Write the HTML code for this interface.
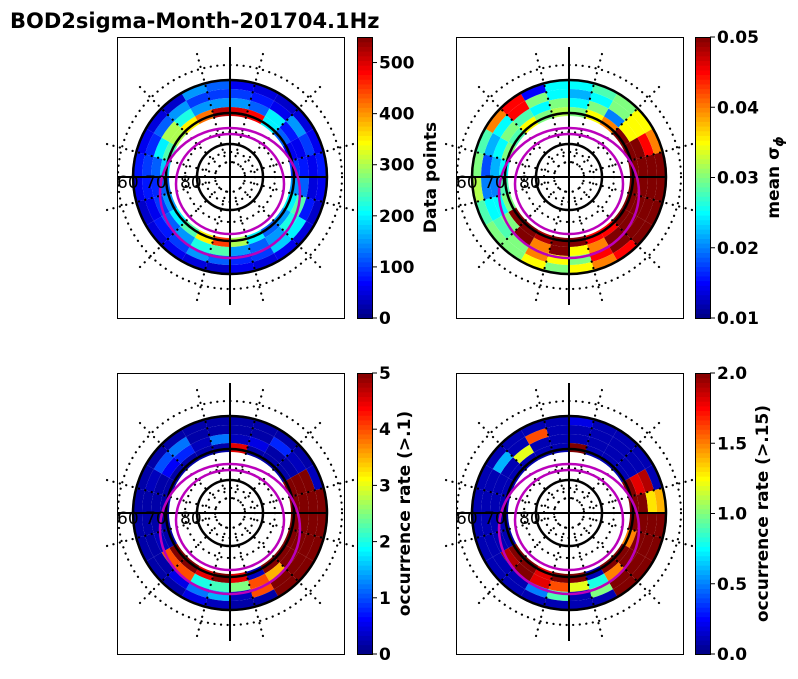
<!DOCTYPE html>
<html><head><meta charset="utf-8"><style>
body{margin:0;background:#fff;width:798px;height:674px;overflow:hidden}
text{font-family:"DejaVu Sans","Liberation Sans",sans-serif}
</style></head><body>
<svg id="fig" width="798" height="674" xmlns="http://www.w3.org/2000/svg">
<text x="10" y="28" font-size="21" font-weight="bold">BOD2sigma-Month-201704.1Hz</text>
</svg>
<script>
// sectors: 24 clockwise from noon (top); rings inner->outer
const sectorCount = 24;
const p1r0=[500,480,200,120,60,100,150,200,150,120,200,300,450,350,250,200,150,120,180,250,300,350,420,520];
const p1r1=[150,120,200,80,60,80,120,250,220,150,120,150,250,220,150,120,100,90,120,200,300,220,150,150];
const p1r2=[100,80,60,150,100,60,50,80,200,180,100,90,120,150,100,80,60,80,100,90,120,150,100,100];
const p1r3=[60,50,40,50,60,80,60,40,50,60,50,60,40,50,60,50,40,60,80,60,50,40,150,120];
const p2r0=[0.03,0.035,0.04,0.05,0.05,0.05,0.05,0.05,0.05,0.045,0.045,0.05,0.05,0.048,0.05,0.05,0.03,0.028,0.025,0.03,0.028,0.035,0.03,0.032];
const p2r1=[0.025,0.03,0.02,0.035,0.05,0.05,0.05,0.05,0.05,0.05,0.04,0.035,0.05,0.04,0.05,0.03,0.025,0.02,0.022,0.025,0.03,0.028,0.025,0.03];
const p2r2=[0.022,0.025,0.03,0.035,0.045,0.05,0.05,0.05,0.05,0.05,0.045,0.03,0.035,0.04,0.03,0.028,0.025,0.02,0.018,0.022,0.025,0.045,0.03,0.025];
const p2r3=[0.025,0.028,0.03,0.035,0.04,0.05,0.05,0.05,0.05,0.045,0.04,0.035,0.03,0.035,0.03,0.03,0.028,0.032,0.03,0.028,0.04,0.045,0.015,0.025];
const p3r0=[4.5,0.2,0.2,0.2,5,5,5,5,5,5,0.3,4.5,5,4.5,5,5,0.2,0.2,0.2,0.2,0.2,0.2,0.2,0.2];
const p3r1=[0.3,0.5,0.2,0.2,5,5,5,5,5,3.5,4,2.5,2.2,2,4,4,0.3,0.2,0.2,0.2,0.6,0.8,0.3,1.2];
const p3r2=[0.2,0.2,0.8,0.3,5,5,5,5,5,5,4,0.3,1.5,1.2,0.5,0.2,0.2,0.2,0.2,0.3,1,1.2,0.2,0.2];
const p3r3=[0.2,0.2,0.2,0.2,0.3,5,5,5,5,5,0.2,0.2,0.3,0.5,0.2,0.2,0.2,0.2,0.2,0.2,0.2,0.2,0.2,0.2];
const p4r0=[2,0.1,0.1,0.1,2,2,2,1.5,2,2,0.1,2,2,1.8,2,2,0.1,0.1,0.1,0.1,0.1,0.1,0.1,0.1];
const p4r1=[0.1,0.1,0.1,0.1,1.8,2,2,2,2,1.5,0.8,1.2,1.6,1.8,2,1.9,0.1,0.1,0.1,0.1,0.1,1.2,0.1,0.1];
const p4r2=[0.1,0.1,0.1,0.1,1.9,1.3,2,2,2,2,1,0.1,0.9,0.5,0.1,0.1,0.1,0.1,0.1,0.1,0.6,0.1,1.6,0.1];
const p4r3=[0.2,0.1,0.1,0.1,0.1,1.4,2,2,2,2,0.1,0.1,0.1,0.1,0.1,0.1,0.1,0.1,0.1,0.1,0.1,0.1,0.1,0.1];
const p1Ticks=["0","100","200","300","400","500"], p1TickVals=[0,100,200,300,400,500];
const p2Ticks=["0.01","0.02","0.03","0.04","0.05"], p2TickVals=[0.01,0.02,0.03,0.04,0.05];
const p3Ticks=["0","1","2","3","4","5"], p3TickVals=[0,1,2,3,4,5];
const p4Ticks=["0.0","0.5","1.0","1.5","2.0"], p4TickVals=[0,0.5,1,1.5,2];

const NS="http://www.w3.org/2000/svg";
const svg=document.getElementById('fig');
function mk(tag,attrs,parent){const e=document.createElementNS(NS,tag);for(const k in attrs)e.setAttribute(k,attrs[k]);(parent||svg).appendChild(e);return e;}
function jet(t){t=Math.max(0,Math.min(1,t));
 const r=Math.max(0,Math.min(1,1.5-Math.abs(4*t-3))),g=Math.max(0,Math.min(1,1.5-Math.abs(4*t-2))),b=Math.max(0,Math.min(1,1.5-Math.abs(4*t-1)));
 return `rgb(${Math.round(r*255)},${Math.round(g*255)},${Math.round(b*255)})`;}
const ringR=[61,70,79,88,98];
const panels=[
 {bx:117,by:37,cbx:357,lx:430,rings:[p1r0,p1r1,p1r2,p1r3],vmin:0,vmax:550,ticks:p1Ticks,tv:p1TickVals,label:"Data points",name:"data-points"},
 {bx:456,by:37,cbx:695,lx:773,rings:[p2r0,p2r1,p2r2,p2r3],vmin:0.01,vmax:0.05,ticks:p2Ticks,tv:p2TickVals,label:"mean σ",sub:"ϕ",name:"mean-sigma"},
 {bx:117,by:373,cbx:357,lx:404,rings:[p3r0,p3r1,p3r2,p3r3],vmin:0,vmax:5,ticks:p3Ticks,tv:p3TickVals,label:"occurrence rate (>.1)",name:"occurrence-01"},
 {bx:456,by:373,cbx:695,lx:762,rings:[p4r0,p4r1,p4r2,p4r3],vmin:0,vmax:2,ticks:p4Ticks,tv:p4TickVals,label:"occurrence rate (>.15)",name:"occurrence-015"}];
function pt(cx,cy,r,a){const t=a*Math.PI/180;return [cx+r*Math.sin(t),cy-r*Math.cos(t)];}
panels.forEach((p,pi)=>{
 const g=mk('g',{});
 
 
 const W=227,H=281,cx=p.bx+113,cy=p.by+140;
 p.rings.forEach((vals,ri)=>{
  vals.forEach((v,si)=>{
   const a0=si*360/sectorCount,a1=(si+1)*360/sectorCount,r0=ringR[ri],r1=ringR[ri+1];
   const A=pt(cx,cy,r0,a0),B=pt(cx,cy,r1,a0),C=pt(cx,cy,r1,a1),D=pt(cx,cy,r0,a1);
   const c=mk('path',{d:`M${A}L${B}A${r1},${r1} 0 0 1 ${C}L${D}A${r0},${r0} 0 0 0 ${A}Z`,fill:jet((v-p.vmin)/(p.vmax-p.vmin)),stroke:'none'},g);
   
   
  });
 });
 const dot={fill:'none',stroke:'#000','stroke-width':2.2,'stroke-dasharray':'0.1 6.5','stroke-linecap':'round'};
 [15,25,45,112].forEach(r=>mk('circle',Object.assign({cx,cy,r},dot),g));
 for(let k=0;k<12;k++){const a=k*30+15;const A=pt(cx,cy,15,a),B=pt(cx,cy,128,a);
  mk('line',Object.assign({x1:A[0],y1:A[1],x2:B[0],y2:B[1]},dot),g);}
 [33,64,97].forEach(r=>mk('circle',{cx,cy,r,fill:'none',stroke:'#000','stroke-width':2.5},g));
 mk('line',{x1:cx,y1:cy-130,x2:cx,y2:cy+128,stroke:'#000','stroke-width':2},g);
 mk('line',{x1:p.bx,y1:cy,x2:cx+97,y2:cy,stroke:'#000','stroke-width':2},g);
 mk('ellipse',{cx,cy:cy+16,rx:70,ry:65,fill:'none',stroke:'#b0b','stroke-width':2.5},g);
 mk('ellipse',{cx,cy:cy+7,rx:54,ry:50,fill:'none',stroke:'#b0b','stroke-width':2.5},g);
 [["60",p.bx],["70",p.bx+28],["80",p.bx+63]].forEach(([t,x])=>{const e=mk('text',{x,y:cy+11,'font-size':17},g);e.textContent=t;});
 const box=mk('rect',{x:p.bx+0.5,y:p.by+0.5,width:W,height:H,fill:'none',stroke:'#000','stroke-width':1},g);
 
 
 const cb=mk('g',{});
 
 
 const N=60,cy0=p.by,ch=281;
 for(let i=0;i<N;i++){mk('rect',{x:p.cbx,y:cy0+ch-(i+1)*ch/N,width:15,height:ch/N+0.6,fill:jet((i+0.5)/N)},cb);}
 mk('rect',{x:p.cbx+0.5,y:cy0+0.5,width:15,height:ch,fill:'none',stroke:'#000','stroke-width':1},cb);
 p.tv.forEach((v,i)=>{const y=cy0+ch-(v-p.vmin)/(p.vmax-p.vmin)*ch;
  mk('line',{x1:p.cbx+15,y1:y,x2:p.cbx+20,y2:y,stroke:'#000','stroke-width':1},cb);
  const t=mk('text',{x:p.cbx+22,y:y+6,'font-size':17,'font-weight':'bold'},cb);t.textContent=p.ticks[i];
  
  });
 const lx=p.lx+6,ly=cy0+ch/2;
 const lt=mk('text',{x:lx,y:ly,'font-size':17,'font-weight':'bold','text-anchor':'middle',transform:`rotate(-90 ${lx} ${ly})`},cb);
 lt.textContent=p.label;
 if(p.sub){const ts=mk('tspan',{'font-size':13,dy:4,'font-style':'italic'},lt);ts.textContent=p.sub;}
 
 
});
</script>
</body></html>
